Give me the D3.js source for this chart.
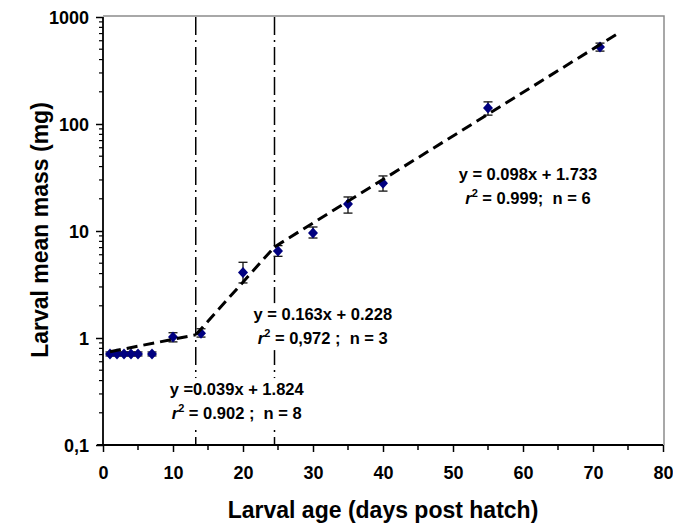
<!DOCTYPE html>
<html><head><meta charset="utf-8">
<script src="https://cdn.jsdelivr.net/npm/d3@7"></script>
<style>
body{margin:0;background:#fff}
svg text{font-family:"Liberation Sans",Arial,sans-serif;font-weight:bold;fill:#000;white-space:pre}
</style>
</head><body>
<svg id="c" width="673" height="525"></svg>
<script>
// ---- data ----
const ageDays  = [1, 2, 3, 4, 5, 7, 10, 14, 20, 25, 30, 35, 40, 55, 71];
const meanMass = [0.71, 0.71, 0.71, 0.71, 0.71, 0.71, 1.02, 1.11, 4.1, 6.5, 9.6, 17.9, 28, 141, 525];
const errLow   = [0.68, 0.68, 0.68, 0.68, 0.68, 0.68, 0.92, 1.02, 3.27, 5.8, 8.6, 14.7, 23.6, 121, 480];
const errHigh  = [0.74, 0.74, 0.74, 0.74, 0.74, 0.74, 1.12, 1.22, 5.1, 7.3, 10.9, 20.8, 32.7, 161, 570];
const fitStartX = [1, 13.25, 24.5];
const fitEndX   = [13.25, 24.5, 73.4];
const fitStartY = [0.745, 1.07, 7.1];
const fitEndY   = [1.07, 7.1, 692];
const breakDays = [13.25, 24.5];
const xTicks = [0, 10, 20, 30, 40, 50, 60, 70, 80];
const xMinorTicks = [5, 15, 25, 35, 45, 55, 65, 75];
const yTicks = [0.1, 1, 10, 100, 1000];
const yTickLabels = ["0,1", "1", "10", "100", "1000"];
const eqTexts = ["y =0.039x + 1.824", "y = 0.163x + 0.228", "y = 0.098x + 1.733"];
const r2Texts = [" = 0.902 ;  n = 8", " = 0,972 ;  n = 3", " = 0.999;  n = 6"];
const xTitle = "Larval age (days post hatch)";
const yTitle = "Larval mean mass (mg)";

// ---- layout ----
const L = 103, R = 663, T = 17, B = 445;
const svg = d3.select("#c");
const x = d3.scaleLinear().domain([0, 80]).range([L, R]);
const y = d3.scaleLog().domain([0.1, 1000]).range([B, T]);

// frame (top/right gray)
svg.append("path").attr("d", `M${L},${T - 1}H${R + 1}V${B}`)
  .attr("fill", "none").attr("stroke", "#8c8c8c").attr("stroke-width", 1.5);

// break lines (dash-dot)
svg.append("g").selectAll("line").data(breakDays).join("line")
  .attr("x1", d => x(d)).attr("x2", d => x(d)).attr("y1", T).attr("y2", B)
  .attr("stroke", "#000").attr("stroke-width", 1.5).attr("stroke-dasharray", "18,5,2,5");

// x axis
const xAxis = svg.append("g").attr("transform", `translate(0,${B})`);
xAxis.call(d3.axisBottom(x).tickValues(xTicks).tickSize(7).tickFormat(d3.format("d")));
xAxis.append("g").selectAll("line").data(xMinorTicks).join("line")
  .attr("x1", d => x(d)).attr("x2", d => x(d)).attr("y1", 0).attr("y2", 5)
  .attr("stroke", "#000").attr("stroke-width", 1.5);
xAxis.select(".domain").attr("d", `M${L - 6},0H${R}`).attr("stroke-width", 1.8);
xAxis.selectAll(".tick line").attr("stroke-width", 1.5);
xAxis.selectAll(".tick text").attr("font-size", 18).attr("dy", 0).attr("y", 34)
  .style("font-family", "'Liberation Sans',Arial,sans-serif").style("font-weight", "bold");

// y axis
const yAxis = svg.append("g").attr("transform", `translate(${L},0)`);
yAxis.call(d3.axisLeft(y).tickValues(yTicks).tickSize(7).tickFormat((d, i) => yTickLabels[i]));
const yMinor = [];
[0.1, 1, 10, 100].forEach(dec => { for (let k = 2; k <= 9; k++) yMinor.push(dec * k); });
yAxis.append("g").selectAll("line").data(yMinor).join("line")
  .attr("x1", 0).attr("x2", -4).attr("y1", d => y(d)).attr("y2", d => y(d))
  .attr("stroke", "#000").attr("stroke-width", 1.2);
yAxis.select(".domain").attr("d", `M0,${T}V${B}`).attr("stroke-width", 1.8);
yAxis.selectAll(".tick line").attr("stroke-width", 1.5);
yAxis.selectAll(".tick text").attr("font-size", 18).attr("x", -14).attr("dy", "0.35em")
  .style("font-family", "'Liberation Sans',Arial,sans-serif").style("font-weight", "bold");

// annotations (with white background boxes that interrupt the break lines)
const annPos = [[19.1, 0.293], [31.4, 1.47], [60.7, 30]];
annPos.forEach((p, i) => {
  const cx = x(p[0]), by = y(p[1]);
  const g = svg.append("g");
  const bg = g.append("rect").attr("fill", "#fff");
  g.append("text").attr("x", cx).attr("y", by).attr("text-anchor", "middle")
    .attr("font-size", 16.5).text(eqTexts[i]);
  const t = g.append("text").attr("x", cx).attr("y", by + 24).attr("text-anchor", "middle")
    .attr("font-size", 16.5);
  t.append("tspan").attr("font-style", "italic").text("r");
  t.append("tspan").attr("font-size", 11).attr("dy", -7).text("2");
  t.append("tspan").attr("dy", 7).text(r2Texts[i]);
  const bb = g.node().getBBox();
  bg.attr("x", bb.x - 3).attr("y", bb.y - 2).attr("width", bb.width + 6).attr("height", bb.height + 5);
});

// error bars
const eb = svg.append("g").attr("stroke", "#111").attr("stroke-width", 1.3);
ageDays.forEach((d, i) => {
  const cx = x(d);
  eb.append("line").attr("x1", cx).attr("x2", cx).attr("y1", y(errLow[i])).attr("y2", y(errHigh[i]));
  eb.append("line").attr("x1", cx - 4.5).attr("x2", cx + 4.5).attr("y1", y(errLow[i])).attr("y2", y(errLow[i]));
  eb.append("line").attr("x1", cx - 4.5).attr("x2", cx + 4.5).attr("y1", y(errHigh[i])).attr("y2", y(errHigh[i]));
});

// markers (diamonds)
svg.append("g").selectAll("path").data(ageDays).join("path")
  .attr("d", (d, i) => {
    const cx = x(d), cy = y(meanMass[i]);
    return `M${cx},${cy - 5.5}L${cx + 5},${cy}L${cx},${cy + 5.5}L${cx - 5},${cy}Z`;
  })
  .attr("fill", "#000080");

// fitted segments
const line = d3.line().x(p => x(p[0])).y(p => y(p[1]));
svg.append("g").selectAll("path").data(fitStartX.map((s, i) => [[s, fitStartY[i]], [fitEndX[i], fitEndY[i]]]))
  .join("path").attr("d", line).attr("fill", "none")
  .attr("stroke", "#000").attr("stroke-width", 3).attr("stroke-dasharray", "11,6");

// axis titles
svg.append("text").attr("x", (L + R) / 2).attr("y", 518).attr("text-anchor", "middle")
  .attr("font-size", 23).text(xTitle);
svg.append("text").attr("transform", "translate(48,230) rotate(-90)").attr("text-anchor", "middle")
  .attr("font-size", 23).text(yTitle);
</script>
</body></html>
